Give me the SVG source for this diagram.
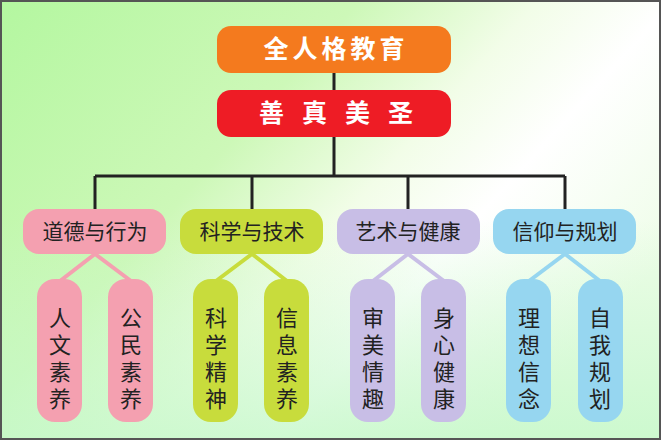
<svg xmlns="http://www.w3.org/2000/svg" width="661" height="440" viewBox="0 0 661 440">
<defs>
<linearGradient id="bg" x1="0" y1="0" x2="1" y2="0.6">
<stop offset="0" stop-color="#b4f7a0"/>
<stop offset="0.4" stop-color="#cdf8b8"/>
<stop offset="0.6" stop-color="#f2fde8"/>
<stop offset="0.75" stop-color="#ffffff"/>
<stop offset="1" stop-color="#eefde8"/>
</linearGradient>
<linearGradient id="bg2" x1="0" y1="0" x2="0" y2="1">
<stop offset="0.5" stop-color="#c4f8c8" stop-opacity="0"/>
<stop offset="1" stop-color="#c4f8c8" stop-opacity="0.8"/>
</linearGradient>
<style>
.t{font-family:"Noto Sans CJK SC",sans-serif;text-anchor:middle}
.w{fill:#fff;font-weight:bold;font-size:25px;letter-spacing:4px}
.c{fill:#222;font-size:21px}
.p{fill:#222;font-size:22px}
.l{stroke-width:4;fill:none}
</style>
</defs>
<rect x="1" y="1" width="659" height="438" fill="url(#bg)" stroke="#555" stroke-width="2"/>
<rect x="2" y="2" width="657" height="436" fill="url(#bg2)"/>
<g id="connectors">
<path d="M334 73V90M334 137V176M95 176H565M95 176V209M252 176V209M408 176V209M565 176V209" stroke="#222" stroke-width="3" fill="none"/>
<path class="l" stroke="#f4a0b0" d="M60 281L95 254L131 281"/>
<path class="l" stroke="#c8dc3c" d="M216 281L252 254L287 281"/>
<path class="l" stroke="#c8bee6" d="M373 281L408 254L444 281"/>
<path class="l" stroke="#96d6f0" d="M529 281L565 254L600 281"/>
</g>
<g id="n-top"><rect x="217" y="26" width="234" height="47" rx="14" fill="#f47a1e"/><text class="t w" x="336" y="58">全人格教育</text></g>
<g id="n-red"><rect x="217" y="90" width="234" height="47" rx="14" fill="#ee1c25"/><text class="t w" x="336" y="122" style="letter-spacing:18px" dx="9">善真美圣</text></g>
<g id="c1"><rect x="23" y="209" width="143" height="45" rx="16" fill="#f4a0b0"/><text class="t c" x="95" y="239">道德与行为</text></g>
<g id="c2"><rect x="180" y="209" width="143" height="45" rx="16" fill="#c8dc3c"/><text class="t c" x="252" y="239">科学与技术</text></g>
<g id="c3"><rect x="337" y="209" width="143" height="45" rx="16" fill="#c8bee6"/><text class="t c" x="408" y="239">艺术与健康</text></g>
<g id="c4"><rect x="493" y="209" width="143" height="45" rx="16" fill="#96d6f0"/><text class="t c" x="565" y="239">信仰与规划</text></g>
<g id="p1"><rect x="37" y="279" width="45" height="143" rx="18" fill="#f4a0b0"/><text class="t p" x="60" y="326">人</text><text class="t p" x="60" y="353">文</text><text class="t p" x="60" y="380">素</text><text class="t p" x="60" y="407">养</text></g>
<g id="p2"><rect x="108" y="279" width="45" height="143" rx="18" fill="#f4a0b0"/><text class="t p" x="131" y="326">公</text><text class="t p" x="131" y="353">民</text><text class="t p" x="131" y="380">素</text><text class="t p" x="131" y="407">养</text></g>
<g id="p3"><rect x="193" y="279" width="45" height="143" rx="18" fill="#c8dc3c"/><text class="t p" x="216" y="326">科</text><text class="t p" x="216" y="353">学</text><text class="t p" x="216" y="380">精</text><text class="t p" x="216" y="407">神</text></g>
<g id="p4"><rect x="264" y="279" width="45" height="143" rx="18" fill="#c8dc3c"/><text class="t p" x="287" y="326">信</text><text class="t p" x="287" y="353">息</text><text class="t p" x="287" y="380">素</text><text class="t p" x="287" y="407">养</text></g>
<g id="p5"><rect x="350" y="279" width="45" height="143" rx="18" fill="#c8bee6"/><text class="t p" x="373" y="326">审</text><text class="t p" x="373" y="353">美</text><text class="t p" x="373" y="380">情</text><text class="t p" x="373" y="407">趣</text></g>
<g id="p6"><rect x="421" y="279" width="45" height="143" rx="18" fill="#c8bee6"/><text class="t p" x="444" y="326">身</text><text class="t p" x="444" y="353">心</text><text class="t p" x="444" y="380">健</text><text class="t p" x="444" y="407">康</text></g>
<g id="p7"><rect x="506" y="279" width="45" height="143" rx="18" fill="#96d6f0"/><text class="t p" x="529" y="326">理</text><text class="t p" x="529" y="353">想</text><text class="t p" x="529" y="380">信</text><text class="t p" x="529" y="407">念</text></g>
<g id="p8"><rect x="578" y="279" width="45" height="143" rx="18" fill="#96d6f0"/><text class="t p" x="600" y="326">自</text><text class="t p" x="600" y="353">我</text><text class="t p" x="600" y="380">规</text><text class="t p" x="600" y="407">划</text></g>
</svg>
